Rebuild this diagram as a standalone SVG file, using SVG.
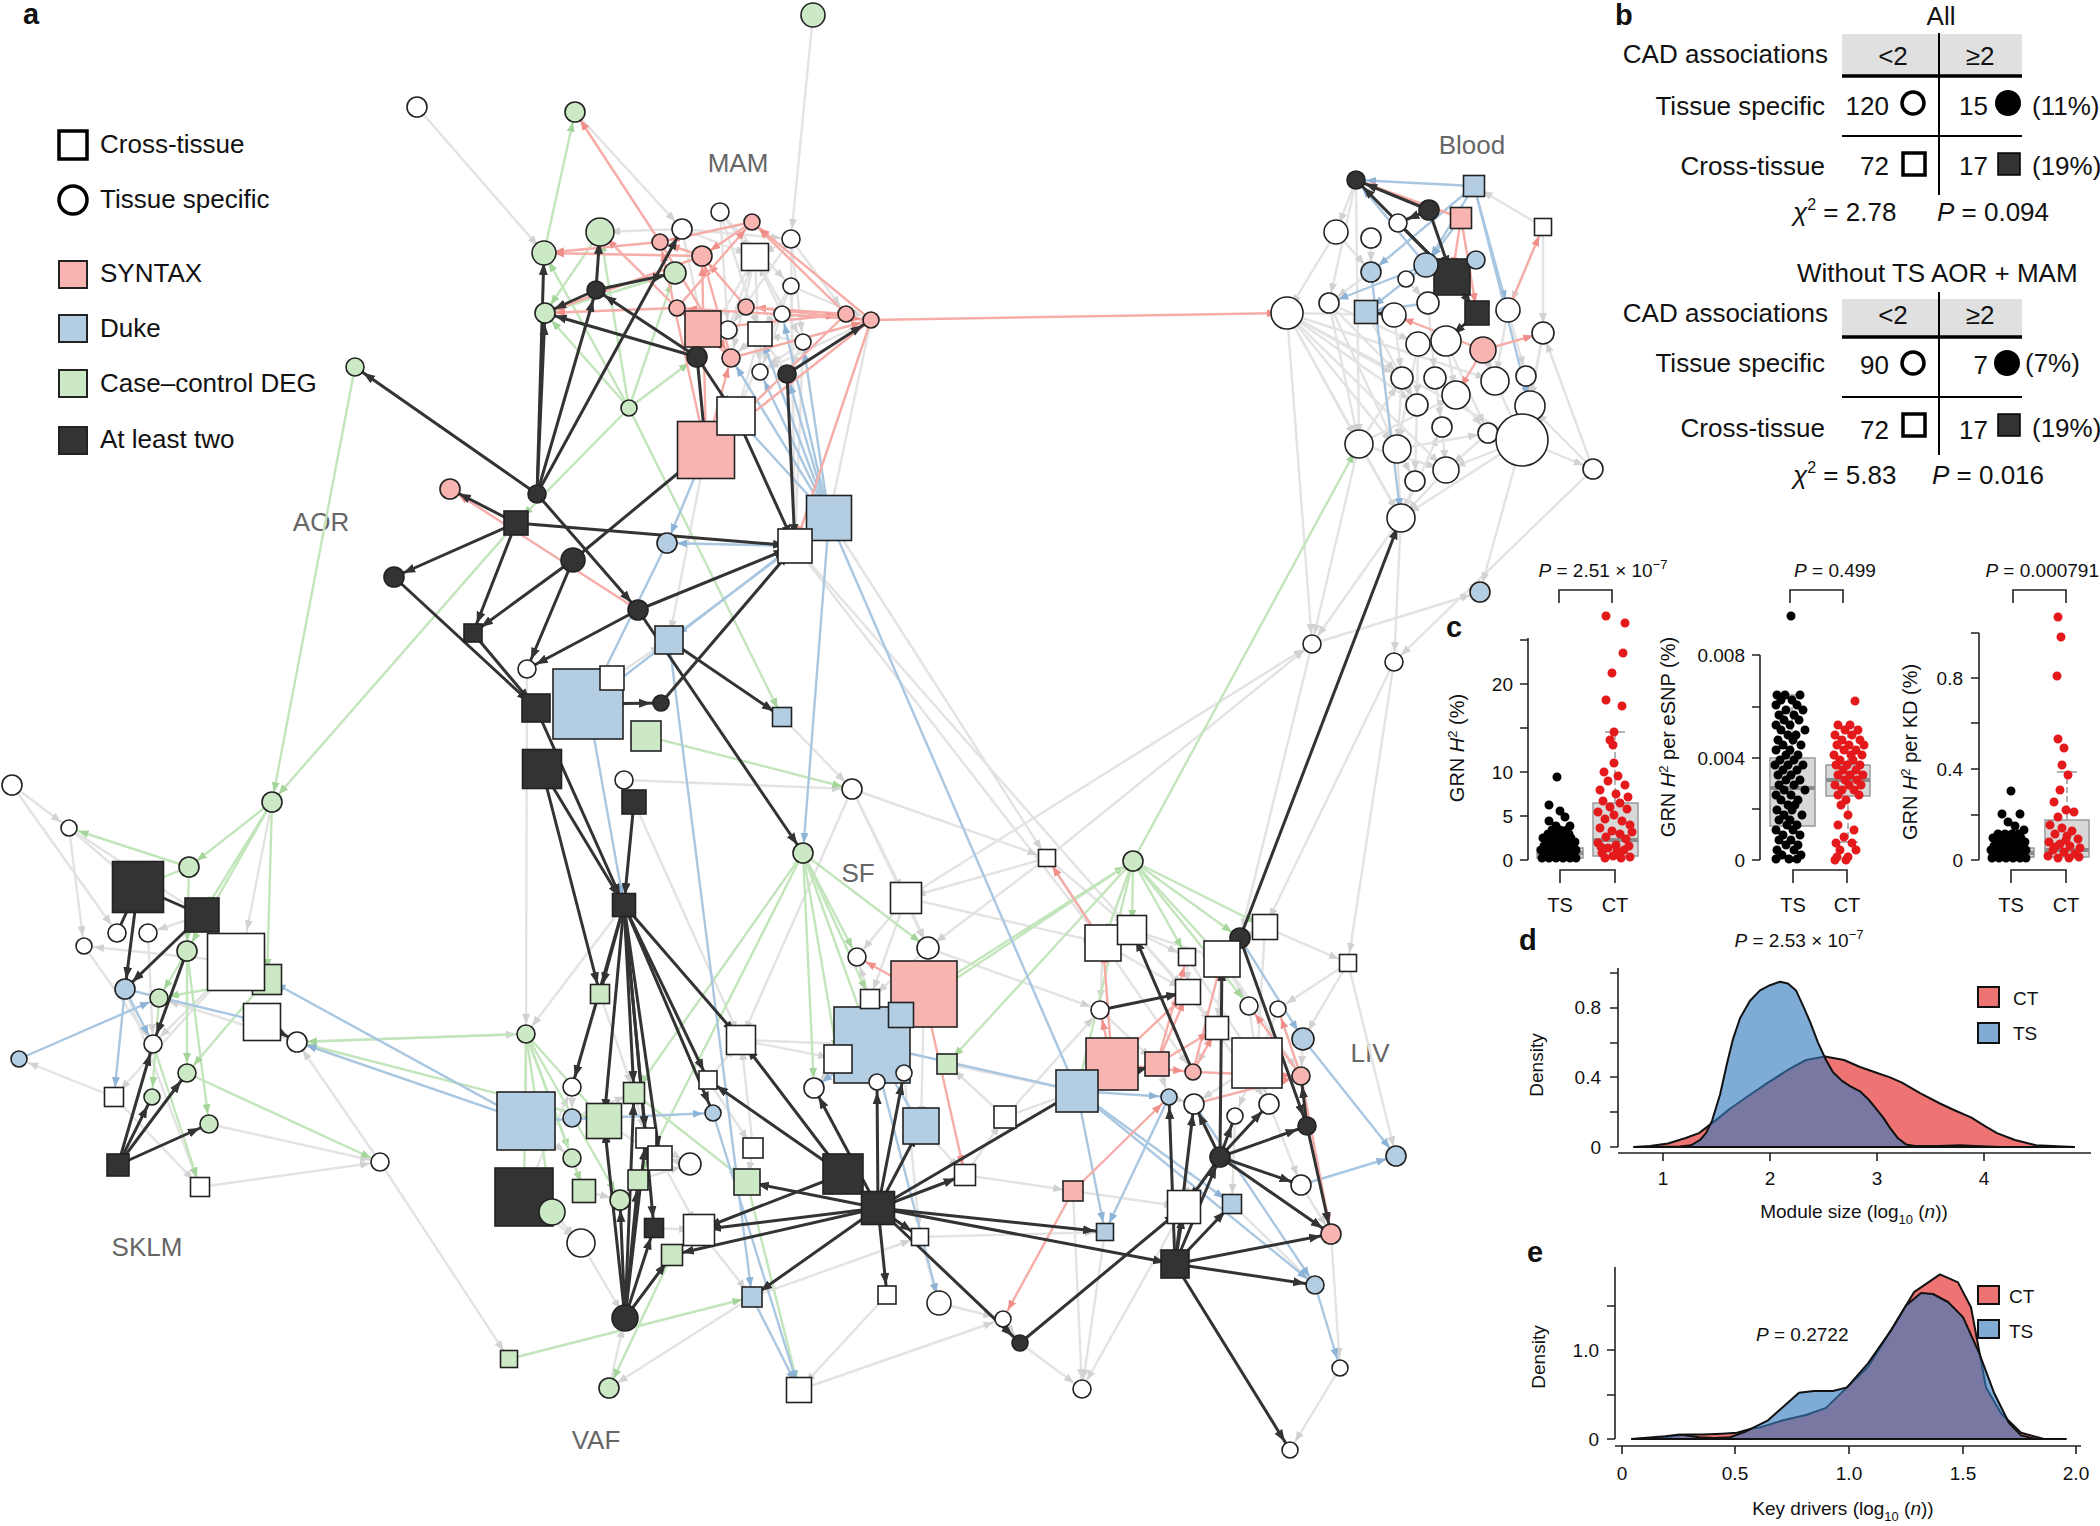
<svg xmlns="http://www.w3.org/2000/svg" width="2100" height="1526" viewBox="0 0 2100 1526">
<defs>
<style>
text{font-family:'Liberation Sans',Arial,sans-serif;fill:#111}
.pl{font-weight:bold;font-size:29px}
.lg{font-size:26px}
.lbl{font-size:26px;fill:#666;text-anchor:middle}
.tb{font-size:26px}
.tk{font-size:19px}
.ed{stroke:#333;stroke-width:3;marker-end:url(#ad)}
.ep{stroke:#f6aca7;stroke-width:2.4;marker-end:url(#ap)}
.eb{stroke:#a9c7e1;stroke-width:2.4;marker-end:url(#ab)}
.en{stroke:#c3e5bb;stroke-width:2.4;marker-end:url(#an)}
.eg{stroke:#e3e3e3;stroke-width:2.4;marker-end:url(#ag)}
.w{fill:#fff}.p{fill:#f8b4b0}.b{fill:#b3cde3}.g{fill:#cce9c5}.k{fill:#333}
#nodes circle,#nodes rect{stroke:#222;stroke-width:1.6}
.box{fill:#d8d8d8;stroke:#9a9a9a;stroke-width:1.5}
.med{stroke:#8c8c8c;stroke-width:4}
.wh{stroke:#9a9a9a;stroke-width:1.5}
.ax{stroke:#222;stroke-width:1.6;fill:none}
.dk{stroke:#000;stroke-width:9;stroke-linecap:round;fill:none}
.dr{stroke:#e3191c;stroke-width:9;stroke-linecap:round;fill:none}
</style>
<marker id="ad" viewBox="0 0 12 12" refX="22" refY="6" markerWidth="12" markerHeight="12" markerUnits="userSpaceOnUse" orient="auto"><path d="M0,1.5L12,6L0,10.5z" fill="#333"/></marker>
<marker id="ap" viewBox="0 0 10 10" refX="20" refY="5" markerWidth="10" markerHeight="10" markerUnits="userSpaceOnUse" orient="auto"><path d="M0,1L10,5L0,9z" fill="#f08f8a"/></marker>
<marker id="ab" viewBox="0 0 10 10" refX="20" refY="5" markerWidth="10" markerHeight="10" markerUnits="userSpaceOnUse" orient="auto"><path d="M0,1L10,5L0,9z" fill="#8db3d6"/></marker>
<marker id="an" viewBox="0 0 10 10" refX="20" refY="5" markerWidth="10" markerHeight="10" markerUnits="userSpaceOnUse" orient="auto"><path d="M0,1L10,5L0,9z" fill="#a6d59b"/></marker>
<marker id="ag" viewBox="0 0 10 10" refX="20" refY="5" markerWidth="10" markerHeight="10" markerUnits="userSpaceOnUse" orient="auto"><path d="M0,1L10,5L0,9z" fill="#d2d2d2"/></marker>
</defs>
<rect width="2100" height="1526" fill="#fff"/>

<g id="legend">
<text class="pl" x="23" y="24">a</text>
<rect x="59" y="131" width="28" height="28" fill="#fff" stroke="#000" stroke-width="3.5"/>
<text class="lg" x="100" y="153">Cross-tissue</text>
<circle cx="73" cy="200" r="14" fill="#fff" stroke="#000" stroke-width="3.5"/>
<text class="lg" x="100" y="208">Tissue specific</text>
<rect x="59" y="261" width="28" height="27" class="p" stroke="#222" stroke-width="2"/>
<text class="lg" x="100" y="282">SYNTAX</text>
<rect x="59" y="315" width="28" height="27" class="b" stroke="#222" stroke-width="2"/>
<text class="lg" x="100" y="337">Duke</text>
<rect x="59" y="370" width="28" height="27" class="g" stroke="#222" stroke-width="2"/>
<text class="lg" x="100" y="392">Case–control DEG</text>
<rect x="59" y="427" width="28" height="27" class="k" stroke="#222" stroke-width="2"/>
<text class="lg" x="100" y="448">At least two</text>
</g>

<g id="tissue-labels">
<text class="lbl" x="738" y="172">MAM</text>
<text class="lbl" x="321" y="531">AOR</text>
<text class="lbl" x="1472" y="154">Blood</text>
<text class="lbl" x="858" y="882">SF</text>
<text class="lbl" x="1370" y="1062">LIV</text>
<text class="lbl" x="147" y="1256">SKLM</text>
<text class="lbl" x="596" y="1449">VAF</text>
</g>

<g id="connectors">
<line class="eg" x1="417" y1="107" x2="544" y2="253"/>
<line class="eg" x1="813" y1="15" x2="791" y2="239"/>
<line class="eg" x1="575" y1="112" x2="682" y2="229"/>
<line class="eg" x1="791" y1="239" x2="795" y2="546"/>
<line class="eg" x1="791" y1="286" x2="795" y2="546"/>
<line class="eg" x1="803" y1="342" x2="795" y2="546"/>
<line class="eg" x1="871" y1="320" x2="829" y2="518"/>
<line class="eg" x1="706" y1="450" x2="669" y2="640"/>
<line class="eg" x1="682" y1="229" x2="755" y2="257"/>
<line class="eg" x1="720" y1="212" x2="755" y2="257"/>
<line class="eg" x1="791" y1="239" x2="755" y2="257"/>
<line class="eg" x1="791" y1="286" x2="760" y2="334"/>
<line class="eg" x1="782" y1="314" x2="755" y2="257"/>
<line class="eg" x1="803" y1="342" x2="760" y2="334"/>
<line class="eg" x1="760" y1="372" x2="760" y2="334"/>
<line class="eg" x1="728" y1="330" x2="755" y2="257"/>
<line class="eg" x1="682" y1="229" x2="791" y2="239"/>
<line class="eg" x1="720" y1="212" x2="791" y2="286"/>
<line class="eg" x1="755" y1="257" x2="760" y2="372"/>
<line class="eg" x1="755" y1="257" x2="803" y2="342"/>
<line class="eg" x1="791" y1="286" x2="871" y2="320"/>
<line class="eg" x1="791" y1="239" x2="846" y2="314"/>
<line class="eg" x1="782" y1="314" x2="760" y2="372"/>
<line class="eg" x1="760" y1="334" x2="787" y2="374"/>
<line class="eg" x1="682" y1="229" x2="703" y2="329"/>
<line class="eg" x1="720" y1="212" x2="728" y2="330"/>
<line class="eg" x1="755" y1="257" x2="731" y2="358"/>
<line class="eg" x1="803" y1="342" x2="787" y2="374"/>
<line class="eg" x1="791" y1="239" x2="803" y2="342"/>
<line class="eg" x1="682" y1="229" x2="600" y2="232"/>
<line class="eg" x1="720" y1="212" x2="760" y2="334"/>
<line class="eg" x1="791" y1="239" x2="728" y2="330"/>
<line class="eg" x1="755" y1="257" x2="697" y2="357"/>
<line class="eg" x1="782" y1="314" x2="731" y2="358"/>
<line class="eg" x1="803" y1="342" x2="760" y2="372"/>
<line class="eg" x1="791" y1="286" x2="736" y2="416"/>
<line class="eg" x1="760" y1="334" x2="736" y2="416"/>
<line class="eg" x1="871" y1="320" x2="760" y2="372"/>
<line class="eg" x1="624" y1="780" x2="852" y2="789"/>
<line class="eg" x1="527" y1="669" x2="526" y2="1034"/>
<line class="eg" x1="634" y1="802" x2="741" y2="1040"/>
<line class="eg" x1="782" y1="717" x2="852" y2="789"/>
<line class="eg" x1="612" y1="678" x2="669" y2="640"/>
<line class="eg" x1="852" y1="789" x2="741" y2="1040"/>
<line class="eg" x1="795" y1="546" x2="1103" y2="943"/>
<line class="eg" x1="795" y1="546" x2="1132" y2="930"/>
<line class="eg" x1="829" y1="518" x2="1047" y2="858"/>
<line class="eg" x1="852" y1="789" x2="906" y2="898"/>
<line class="eg" x1="852" y1="789" x2="1047" y2="858"/>
<line class="eg" x1="852" y1="789" x2="928" y2="948"/>
<line class="eg" x1="624" y1="905" x2="526" y2="1034"/>
<line class="eg" x1="1287" y1="313" x2="1312" y2="644"/>
<line class="eg" x1="1287" y1="313" x2="1401" y2="518"/>
<line class="eg" x1="1359" y1="444" x2="1312" y2="644"/>
<line class="eg" x1="1401" y1="518" x2="1394" y2="662"/>
<line class="eg" x1="1401" y1="518" x2="1312" y2="644"/>
<line class="eg" x1="1593" y1="469" x2="1394" y2="662"/>
<line class="eg" x1="1593" y1="469" x2="1530" y2="406"/>
<line class="eg" x1="1593" y1="469" x2="1543" y2="333"/>
<line class="eg" x1="1543" y1="227" x2="1543" y2="333"/>
<line class="eg" x1="1543" y1="227" x2="1474" y2="186"/>
<line class="eg" x1="1543" y1="227" x2="1508" y2="310"/>
<line class="eg" x1="1356" y1="180" x2="1336" y2="232"/>
<line class="eg" x1="1356" y1="180" x2="1329" y2="303"/>
<line class="eg" x1="1356" y1="180" x2="1359" y2="444"/>
<line class="eg" x1="1336" y1="232" x2="1287" y2="313"/>
<line class="eg" x1="1287" y1="313" x2="1359" y2="444"/>
<line class="eg" x1="1287" y1="313" x2="1417" y2="405"/>
<line class="eg" x1="1287" y1="313" x2="1402" y2="378"/>
<line class="eg" x1="1287" y1="313" x2="1397" y2="449"/>
<line class="eg" x1="1287" y1="313" x2="1394" y2="315"/>
<line class="eg" x1="1287" y1="313" x2="1495" y2="381"/>
<line class="eg" x1="1287" y1="313" x2="1522" y2="440"/>
<line class="eg" x1="1329" y1="303" x2="1418" y2="344"/>
<line class="eg" x1="1329" y1="303" x2="1359" y2="444"/>
<line class="eg" x1="1359" y1="444" x2="1446" y2="470"/>
<line class="eg" x1="1359" y1="444" x2="1401" y2="518"/>
<line class="eg" x1="1397" y1="449" x2="1401" y2="518"/>
<line class="eg" x1="1415" y1="481" x2="1401" y2="518"/>
<line class="eg" x1="1446" y1="470" x2="1401" y2="518"/>
<line class="eg" x1="1522" y1="440" x2="1401" y2="518"/>
<line class="eg" x1="1522" y1="440" x2="1593" y2="469"/>
<line class="eg" x1="1530" y1="406" x2="1522" y2="440"/>
<line class="eg" x1="1543" y1="333" x2="1522" y2="440"/>
<line class="eg" x1="1543" y1="333" x2="1530" y2="406"/>
<line class="eg" x1="1508" y1="310" x2="1495" y2="381"/>
<line class="eg" x1="1508" y1="310" x2="1526" y2="376"/>
<line class="eg" x1="1446" y1="341" x2="1456" y2="395"/>
<line class="eg" x1="1418" y1="344" x2="1417" y2="405"/>
<line class="eg" x1="1402" y1="378" x2="1397" y2="449"/>
<line class="eg" x1="1435" y1="378" x2="1442" y2="427"/>
<line class="eg" x1="1456" y1="395" x2="1488" y2="433"/>
<line class="eg" x1="1495" y1="381" x2="1522" y2="440"/>
<line class="eg" x1="1526" y1="376" x2="1530" y2="406"/>
<line class="eg" x1="1394" y1="315" x2="1402" y2="378"/>
<line class="eg" x1="1428" y1="303" x2="1435" y2="378"/>
<line class="eg" x1="1371" y1="272" x2="1329" y2="303"/>
<line class="eg" x1="1371" y1="238" x2="1371" y2="272"/>
<line class="eg" x1="1406" y1="279" x2="1428" y2="303"/>
<line class="eg" x1="1442" y1="427" x2="1446" y2="470"/>
<line class="eg" x1="1488" y1="433" x2="1446" y2="470"/>
<line class="eg" x1="1417" y1="405" x2="1415" y2="481"/>
<line class="eg" x1="1397" y1="449" x2="1415" y2="481"/>
<line class="eg" x1="1418" y1="344" x2="1397" y2="449"/>
<line class="eg" x1="1446" y1="341" x2="1488" y2="433"/>
<line class="eg" x1="1483" y1="350" x2="1495" y2="381"/>
<line class="eg" x1="1329" y1="303" x2="1402" y2="378"/>
<line class="eg" x1="1366" y1="312" x2="1417" y2="405"/>
<line class="eg" x1="1359" y1="444" x2="1402" y2="378"/>
<line class="eg" x1="1401" y1="518" x2="1442" y2="427"/>
<line class="eg" x1="1336" y1="232" x2="1371" y2="272"/>
<line class="eg" x1="1329" y1="303" x2="1397" y2="449"/>
<line class="eg" x1="1287" y1="313" x2="1446" y2="470"/>
<line class="eg" x1="1359" y1="444" x2="1456" y2="395"/>
<line class="eg" x1="1397" y1="449" x2="1488" y2="433"/>
<line class="eg" x1="1522" y1="440" x2="1446" y2="470"/>
<line class="eg" x1="1522" y1="440" x2="1480" y2="592"/>
<line class="eg" x1="1312" y1="644" x2="1480" y2="592"/>
<line class="eg" x1="1312" y1="644" x2="1240" y2="938"/>
<line class="eg" x1="1394" y1="662" x2="1348" y2="963"/>
<line class="eg" x1="1394" y1="662" x2="1265" y2="927"/>
<line class="eg" x1="906" y1="898" x2="1312" y2="644"/>
<line class="eg" x1="1047" y1="858" x2="1312" y2="644"/>
<line class="eg" x1="12" y1="785" x2="69" y2="828"/>
<line class="eg" x1="69" y1="828" x2="84" y2="946"/>
<line class="eg" x1="12" y1="785" x2="117" y2="933"/>
<line class="eg" x1="69" y1="828" x2="202" y2="915"/>
<line class="eg" x1="84" y1="946" x2="153" y2="1044"/>
<line class="eg" x1="114" y1="1097" x2="19" y2="1059"/>
<line class="eg" x1="114" y1="1097" x2="200" y2="1187"/>
<line class="eg" x1="200" y1="1187" x2="380" y2="1162"/>
<line class="eg" x1="380" y1="1162" x2="297" y2="1042"/>
<line class="eg" x1="380" y1="1162" x2="509" y2="1359"/>
<line class="eg" x1="297" y1="1042" x2="159" y2="998"/>
<line class="eg" x1="209" y1="1124" x2="380" y2="1162"/>
<line class="eg" x1="236" y1="962" x2="153" y2="1044"/>
<line class="eg" x1="236" y1="962" x2="84" y2="946"/>
<line class="eg" x1="202" y1="915" x2="148" y2="933"/>
<line class="eg" x1="272" y1="802" x2="245" y2="940"/>
<line class="eg" x1="297" y1="1042" x2="526" y2="1034"/>
<line class="eg" x1="69" y1="828" x2="138" y2="887"/>
<line class="eg" x1="148" y1="933" x2="153" y2="1044"/>
<line class="eg" x1="125" y1="989" x2="200" y2="1187"/>
<line class="eg" x1="236" y1="962" x2="114" y2="1097"/>
<line class="eg" x1="524" y1="1197" x2="572" y2="1087"/>
<line class="eg" x1="572" y1="1087" x2="572" y2="1118"/>
<line class="eg" x1="572" y1="1118" x2="634" y2="1093"/>
<line class="eg" x1="646" y1="1138" x2="690" y2="1164"/>
<line class="eg" x1="690" y1="1164" x2="660" y2="1158"/>
<line class="eg" x1="660" y1="1158" x2="699" y2="1230"/>
<line class="eg" x1="699" y1="1230" x2="752" y2="1297"/>
<line class="eg" x1="753" y1="1148" x2="747" y2="1182"/>
<line class="eg" x1="753" y1="1148" x2="741" y2="1040"/>
<line class="eg" x1="708" y1="1080" x2="741" y2="1040"/>
<line class="eg" x1="838" y1="1059" x2="814" y2="1088"/>
<line class="eg" x1="870" y1="999" x2="857" y2="957"/>
<line class="eg" x1="928" y1="948" x2="870" y2="999"/>
<line class="eg" x1="906" y1="898" x2="870" y2="999"/>
<line class="eg" x1="906" y1="898" x2="857" y2="957"/>
<line class="eg" x1="906" y1="898" x2="928" y2="948"/>
<line class="eg" x1="924" y1="994" x2="921" y2="1126"/>
<line class="eg" x1="921" y1="1126" x2="965" y2="1175"/>
<line class="eg" x1="965" y1="1175" x2="1005" y2="1117"/>
<line class="eg" x1="1005" y1="1117" x2="947" y2="1064"/>
<line class="eg" x1="904" y1="1073" x2="920" y2="1237"/>
<line class="eg" x1="939" y1="1303" x2="1003" y2="1319"/>
<line class="eg" x1="1003" y1="1319" x2="1020" y2="1343"/>
<line class="eg" x1="920" y1="1237" x2="939" y2="1303"/>
<line class="eg" x1="799" y1="1390" x2="1003" y2="1319"/>
<line class="eg" x1="752" y1="1297" x2="920" y2="1237"/>
<line class="eg" x1="1047" y1="858" x2="906" y2="898"/>
<line class="eg" x1="1047" y1="858" x2="928" y2="948"/>
<line class="eg" x1="741" y1="1040" x2="838" y2="1059"/>
<line class="eg" x1="741" y1="1040" x2="872" y2="1045"/>
<line class="eg" x1="708" y1="1080" x2="753" y2="1148"/>
<line class="eg" x1="552" y1="1212" x2="581" y2="1243"/>
<line class="eg" x1="524" y1="1197" x2="581" y2="1243"/>
<line class="eg" x1="581" y1="1243" x2="625" y2="1318"/>
<line class="eg" x1="654" y1="1228" x2="699" y2="1230"/>
<line class="eg" x1="672" y1="1255" x2="699" y2="1230"/>
<line class="eg" x1="638" y1="1180" x2="690" y2="1164"/>
<line class="eg" x1="584" y1="1191" x2="620" y2="1200"/>
<line class="eg" x1="572" y1="1158" x2="584" y2="1191"/>
<line class="eg" x1="604" y1="1121" x2="660" y2="1158"/>
<line class="eg" x1="634" y1="1093" x2="646" y2="1138"/>
<line class="eg" x1="600" y1="994" x2="634" y2="1093"/>
<line class="eg" x1="600" y1="994" x2="572" y2="1087"/>
<line class="eg" x1="526" y1="1034" x2="526" y2="1121"/>
<line class="eg" x1="526" y1="1121" x2="572" y2="1158"/>
<line class="eg" x1="752" y1="1297" x2="609" y2="1388"/>
<line class="eg" x1="609" y1="1388" x2="625" y2="1318"/>
<line class="eg" x1="887" y1="1295" x2="799" y2="1390"/>
<line class="eg" x1="965" y1="1175" x2="1073" y2="1191"/>
<line class="eg" x1="1005" y1="1117" x2="1100" y2="1010"/>
<line class="eg" x1="1005" y1="1117" x2="1077" y2="1091"/>
<line class="eg" x1="1020" y1="1343" x2="1082" y2="1389"/>
<line class="eg" x1="1105" y1="1232" x2="1082" y2="1389"/>
<line class="eg" x1="1073" y1="1191" x2="1082" y2="1389"/>
<line class="eg" x1="920" y1="1237" x2="1105" y2="1232"/>
<line class="eg" x1="947" y1="1064" x2="1077" y2="1091"/>
<line class="eg" x1="906" y1="898" x2="1103" y2="943"/>
<line class="eg" x1="1047" y1="858" x2="1103" y2="943"/>
<line class="eg" x1="1047" y1="858" x2="1132" y2="930"/>
<line class="eg" x1="928" y1="948" x2="1100" y2="1010"/>
<line class="eg" x1="1103" y1="943" x2="1100" y2="1010"/>
<line class="eg" x1="1132" y1="930" x2="1188" y2="992"/>
<line class="eg" x1="1132" y1="930" x2="1187" y2="957"/>
<line class="eg" x1="1103" y1="943" x2="1112" y2="1064"/>
<line class="eg" x1="1265" y1="927" x2="1222" y2="959"/>
<line class="eg" x1="1265" y1="927" x2="1348" y2="963"/>
<line class="eg" x1="1348" y1="963" x2="1303" y2="1039"/>
<line class="eg" x1="1348" y1="963" x2="1278" y2="1009"/>
<line class="eg" x1="1187" y1="957" x2="1188" y2="992"/>
<line class="eg" x1="1222" y1="959" x2="1217" y2="1028"/>
<line class="eg" x1="1222" y1="959" x2="1249" y2="1006"/>
<line class="eg" x1="1249" y1="1006" x2="1257" y2="1063"/>
<line class="eg" x1="1278" y1="1009" x2="1257" y2="1063"/>
<line class="eg" x1="1188" y1="992" x2="1217" y2="1028"/>
<line class="eg" x1="1217" y1="1028" x2="1193" y2="1072"/>
<line class="eg" x1="1217" y1="1028" x2="1257" y2="1063"/>
<line class="eg" x1="1100" y1="1010" x2="1112" y2="1064"/>
<line class="eg" x1="1257" y1="1063" x2="1194" y2="1104"/>
<line class="eg" x1="1257" y1="1063" x2="1235" y2="1116"/>
<line class="eg" x1="1257" y1="1063" x2="1269" y2="1104"/>
<line class="eg" x1="1169" y1="1097" x2="1194" y2="1104"/>
<line class="eg" x1="1194" y1="1104" x2="1184" y2="1207"/>
<line class="eg" x1="1235" y1="1116" x2="1232" y2="1204"/>
<line class="eg" x1="1269" y1="1104" x2="1301" y2="1185"/>
<line class="eg" x1="1301" y1="1185" x2="1331" y2="1234"/>
<line class="eg" x1="1232" y1="1204" x2="1315" y2="1285"/>
<line class="eg" x1="1340" y1="1368" x2="1290" y2="1450"/>
<line class="eg" x1="1331" y1="1234" x2="1340" y2="1368"/>
<line class="eg" x1="1348" y1="963" x2="1396" y2="1156"/>
<line class="eg" x1="1303" y1="1039" x2="1301" y2="1076"/>
<line class="eg" x1="1240" y1="938" x2="1265" y2="927"/>
<line class="eg" x1="1132" y1="930" x2="1103" y2="943"/>
<line class="eg" x1="1157" y1="1064" x2="1169" y2="1097"/>
<line class="eg" x1="1103" y1="943" x2="1188" y2="992"/>
<line class="eg" x1="1132" y1="930" x2="1222" y2="959"/>
<line class="eg" x1="1132" y1="930" x2="1217" y2="1028"/>
<line class="eg" x1="1103" y1="943" x2="1193" y2="1072"/>
<line class="eg" x1="1100" y1="1010" x2="1157" y2="1064"/>
<line class="eg" x1="1073" y1="1191" x2="1184" y2="1207"/>
<line class="eg" x1="1184" y1="1207" x2="1082" y2="1389"/>
<line class="eg" x1="1187" y1="957" x2="1257" y2="1063"/>
<line class="eg" x1="1265" y1="927" x2="1257" y2="1063"/>
<line class="eg" x1="1222" y1="959" x2="1301" y2="1076"/>
<line class="eg" x1="1188" y1="992" x2="1269" y2="1104"/>
<line class="en" x1="355" y1="367" x2="272" y2="802"/>
<line class="en" x1="516" y1="523" x2="272" y2="802"/>
<line class="en" x1="544" y1="253" x2="575" y2="112"/>
<line class="en" x1="600" y1="232" x2="545" y2="313"/>
<line class="en" x1="629" y1="408" x2="544" y2="253"/>
<line class="en" x1="629" y1="408" x2="545" y2="313"/>
<line class="en" x1="629" y1="408" x2="675" y2="273"/>
<line class="en" x1="629" y1="408" x2="600" y2="232"/>
<line class="en" x1="629" y1="408" x2="516" y2="523"/>
<line class="en" x1="629" y1="408" x2="782" y2="717"/>
<line class="en" x1="675" y1="273" x2="545" y2="313"/>
<line class="en" x1="629" y1="408" x2="697" y2="357"/>
<line class="en" x1="646" y1="736" x2="852" y2="789"/>
<line class="en" x1="272" y1="802" x2="189" y2="867"/>
<line class="en" x1="272" y1="802" x2="187" y2="951"/>
<line class="en" x1="272" y1="802" x2="267" y2="979"/>
<line class="en" x1="272" y1="802" x2="202" y2="915"/>
<line class="en" x1="189" y1="867" x2="69" y2="828"/>
<line class="en" x1="189" y1="867" x2="138" y2="887"/>
<line class="en" x1="187" y1="951" x2="159" y2="998"/>
<line class="en" x1="187" y1="951" x2="187" y2="1073"/>
<line class="en" x1="187" y1="951" x2="209" y2="1124"/>
<line class="en" x1="159" y1="998" x2="152" y2="1097"/>
<line class="en" x1="267" y1="979" x2="187" y2="1073"/>
<line class="en" x1="187" y1="1073" x2="380" y2="1162"/>
<line class="en" x1="153" y1="1044" x2="200" y2="1187"/>
<line class="en" x1="189" y1="867" x2="187" y2="951"/>
<line class="en" x1="267" y1="979" x2="159" y2="998"/>
<line class="en" x1="526" y1="1034" x2="297" y2="1042"/>
<line class="en" x1="526" y1="1034" x2="552" y2="1212"/>
<line class="en" x1="526" y1="1034" x2="572" y2="1158"/>
<line class="en" x1="526" y1="1034" x2="604" y2="1121"/>
<line class="en" x1="526" y1="1034" x2="620" y2="1200"/>
<line class="en" x1="526" y1="1034" x2="584" y2="1191"/>
<line class="en" x1="526" y1="1034" x2="524" y2="1197"/>
<line class="en" x1="604" y1="1121" x2="297" y2="1042"/>
<line class="en" x1="803" y1="853" x2="870" y2="999"/>
<line class="en" x1="803" y1="853" x2="872" y2="1045"/>
<line class="en" x1="803" y1="853" x2="838" y2="1059"/>
<line class="en" x1="803" y1="853" x2="814" y2="1088"/>
<line class="en" x1="803" y1="853" x2="857" y2="957"/>
<line class="en" x1="803" y1="853" x2="638" y2="1180"/>
<line class="en" x1="803" y1="853" x2="634" y2="1093"/>
<line class="en" x1="803" y1="853" x2="928" y2="948"/>
<line class="en" x1="924" y1="994" x2="1133" y2="861"/>
<line class="en" x1="1133" y1="861" x2="1103" y2="943"/>
<line class="en" x1="1133" y1="861" x2="1132" y2="930"/>
<line class="en" x1="1133" y1="861" x2="1240" y2="938"/>
<line class="en" x1="1133" y1="861" x2="1265" y2="927"/>
<line class="en" x1="1133" y1="861" x2="1187" y2="957"/>
<line class="en" x1="1133" y1="861" x2="1222" y2="959"/>
<line class="en" x1="1133" y1="861" x2="1249" y2="1006"/>
<line class="en" x1="1133" y1="861" x2="947" y2="1064"/>
<line class="en" x1="1133" y1="861" x2="1077" y2="1091"/>
<line class="en" x1="1133" y1="861" x2="901" y2="1015"/>
<line class="en" x1="1133" y1="861" x2="1359" y2="444"/>
<line class="en" x1="672" y1="1255" x2="609" y2="1388"/>
<line class="en" x1="747" y1="1182" x2="799" y2="1390"/>
<line class="en" x1="509" y1="1359" x2="752" y2="1297"/>
<line class="en" x1="634" y1="1093" x2="747" y2="1182"/>
<line class="eb" x1="829" y1="518" x2="787" y2="374"/>
<line class="eb" x1="829" y1="518" x2="731" y2="358"/>
<line class="eb" x1="829" y1="518" x2="760" y2="334"/>
<line class="eb" x1="829" y1="518" x2="760" y2="372"/>
<line class="eb" x1="829" y1="518" x2="803" y2="342"/>
<line class="eb" x1="829" y1="518" x2="782" y2="314"/>
<line class="eb" x1="829" y1="518" x2="736" y2="416"/>
<line class="eb" x1="795" y1="546" x2="667" y2="543"/>
<line class="eb" x1="829" y1="518" x2="588" y2="704"/>
<line class="eb" x1="667" y1="543" x2="588" y2="704"/>
<line class="eb" x1="829" y1="518" x2="1077" y2="1091"/>
<line class="eb" x1="588" y1="704" x2="624" y2="905"/>
<line class="eb" x1="669" y1="640" x2="752" y2="1297"/>
<line class="eb" x1="795" y1="546" x2="669" y2="640"/>
<line class="eb" x1="706" y1="450" x2="667" y2="543"/>
<line class="eb" x1="829" y1="518" x2="803" y2="853"/>
<line class="eb" x1="526" y1="1121" x2="267" y2="979"/>
<line class="eb" x1="19" y1="1059" x2="159" y2="998"/>
<line class="eb" x1="125" y1="989" x2="114" y2="1097"/>
<line class="eb" x1="125" y1="989" x2="262" y2="1022"/>
<line class="eb" x1="125" y1="989" x2="153" y2="1044"/>
<line class="eb" x1="526" y1="1121" x2="297" y2="1042"/>
<line class="eb" x1="526" y1="1121" x2="713" y2="1113"/>
<line class="eb" x1="872" y1="1045" x2="921" y2="1126"/>
<line class="eb" x1="872" y1="1045" x2="814" y2="1088"/>
<line class="eb" x1="872" y1="1045" x2="939" y2="1303"/>
<line class="eb" x1="752" y1="1297" x2="799" y2="1390"/>
<line class="eb" x1="713" y1="1113" x2="799" y2="1390"/>
<line class="eb" x1="872" y1="1045" x2="1077" y2="1091"/>
<line class="eb" x1="1077" y1="1091" x2="1105" y2="1232"/>
<line class="eb" x1="1077" y1="1091" x2="1169" y2="1097"/>
<line class="eb" x1="1077" y1="1091" x2="1232" y2="1204"/>
<line class="eb" x1="1303" y1="1039" x2="1396" y2="1156"/>
<line class="eb" x1="1315" y1="1285" x2="1340" y2="1368"/>
<line class="eb" x1="1169" y1="1097" x2="1105" y2="1232"/>
<line class="eb" x1="1301" y1="1185" x2="1396" y2="1156"/>
<line class="eb" x1="1077" y1="1091" x2="1315" y2="1285"/>
<line class="eb" x1="1240" y1="938" x2="1303" y2="1039"/>
<line class="eb" x1="1194" y1="1104" x2="1315" y2="1285"/>
<line class="eb" x1="1474" y1="186" x2="1371" y2="272"/>
<line class="eb" x1="1474" y1="186" x2="1426" y2="265"/>
<line class="eb" x1="1474" y1="186" x2="1508" y2="310"/>
<line class="eb" x1="1426" y1="265" x2="1366" y2="312"/>
<line class="eb" x1="1371" y1="272" x2="1401" y2="518"/>
<line class="eb" x1="1476" y1="260" x2="1426" y2="265"/>
<line class="eb" x1="1474" y1="186" x2="1356" y2="180"/>
<line class="eb" x1="1426" y1="265" x2="1329" y2="303"/>
<line class="eb" x1="1461" y1="218" x2="1426" y2="265"/>
<line class="eb" x1="1474" y1="186" x2="1530" y2="406"/>
<line class="eb" x1="1426" y1="265" x2="1356" y2="180"/>
<line class="eb" x1="1428" y1="303" x2="1366" y2="312"/>
<line class="ep" x1="871" y1="320" x2="1287" y2="313"/>
<line class="ep" x1="638" y1="610" x2="450" y2="489"/>
<line class="ep" x1="660" y1="242" x2="575" y2="112"/>
<line class="ep" x1="871" y1="320" x2="795" y2="546"/>
<line class="ep" x1="702" y1="256" x2="544" y2="253"/>
<line class="ep" x1="677" y1="308" x2="545" y2="313"/>
<line class="ep" x1="660" y1="242" x2="544" y2="253"/>
<line class="ep" x1="752" y1="222" x2="660" y2="242"/>
<line class="ep" x1="752" y1="222" x2="702" y2="256"/>
<line class="ep" x1="846" y1="314" x2="752" y2="222"/>
<line class="ep" x1="871" y1="320" x2="752" y2="222"/>
<line class="ep" x1="871" y1="320" x2="677" y2="308"/>
<line class="ep" x1="846" y1="314" x2="746" y2="307"/>
<line class="ep" x1="731" y1="358" x2="677" y2="308"/>
<line class="ep" x1="731" y1="358" x2="702" y2="256"/>
<line class="ep" x1="746" y1="307" x2="702" y2="256"/>
<line class="ep" x1="703" y1="329" x2="846" y2="314"/>
<line class="ep" x1="871" y1="320" x2="706" y2="450"/>
<line class="ep" x1="702" y1="256" x2="660" y2="242"/>
<line class="ep" x1="677" y1="308" x2="752" y2="222"/>
<line class="ep" x1="731" y1="358" x2="871" y2="320"/>
<line class="ep" x1="746" y1="307" x2="871" y2="320"/>
<line class="ep" x1="660" y1="242" x2="731" y2="358"/>
<line class="ep" x1="706" y1="450" x2="731" y2="358"/>
<line class="ep" x1="846" y1="314" x2="706" y2="450"/>
<line class="ep" x1="706" y1="450" x2="660" y2="242"/>
<line class="ep" x1="706" y1="450" x2="702" y2="256"/>
<line class="ep" x1="677" y1="308" x2="600" y2="232"/>
<line class="ep" x1="702" y1="256" x2="545" y2="313"/>
<line class="ep" x1="924" y1="994" x2="857" y2="957"/>
<line class="ep" x1="924" y1="994" x2="965" y2="1175"/>
<line class="ep" x1="1073" y1="1191" x2="1003" y2="1319"/>
<line class="ep" x1="1103" y1="943" x2="1047" y2="858"/>
<line class="ep" x1="1112" y1="1064" x2="1103" y2="943"/>
<line class="ep" x1="1073" y1="1191" x2="1169" y2="1097"/>
<line class="ep" x1="1301" y1="1076" x2="1331" y2="1234"/>
<line class="ep" x1="1112" y1="1064" x2="1100" y2="1010"/>
<line class="ep" x1="1157" y1="1064" x2="1188" y2="992"/>
<line class="ep" x1="1193" y1="1072" x2="1217" y2="1028"/>
<line class="ep" x1="1301" y1="1076" x2="1278" y2="1009"/>
<line class="ep" x1="1193" y1="1072" x2="1222" y2="959"/>
<line class="ep" x1="1157" y1="1064" x2="1217" y2="1028"/>
<line class="ep" x1="1157" y1="1064" x2="1187" y2="957"/>
<line class="ep" x1="1193" y1="1072" x2="1301" y2="1076"/>
<line class="ep" x1="1194" y1="1104" x2="1301" y2="1076"/>
<line class="ep" x1="1112" y1="1064" x2="1193" y2="1072"/>
<line class="ep" x1="1301" y1="1076" x2="1249" y2="1006"/>
<line class="ep" x1="1112" y1="1064" x2="1188" y2="992"/>
<line class="ep" x1="1461" y1="218" x2="1356" y2="180"/>
<line class="ep" x1="1483" y1="350" x2="1543" y2="333"/>
<line class="ep" x1="1508" y1="310" x2="1543" y2="227"/>
<line class="ep" x1="1483" y1="350" x2="1394" y2="315"/>
<line class="ep" x1="1461" y1="218" x2="1477" y2="313"/>
<line class="ep" x1="1461" y1="218" x2="1452" y2="277"/>
<line class="ep" x1="1483" y1="350" x2="1456" y2="395"/>
<line class="ed" x1="537" y1="494" x2="544" y2="253"/>
<line class="ed" x1="537" y1="494" x2="545" y2="313"/>
<line class="ed" x1="537" y1="494" x2="596" y2="290"/>
<line class="ed" x1="537" y1="494" x2="682" y2="229"/>
<line class="ed" x1="537" y1="494" x2="355" y2="367"/>
<line class="ed" x1="537" y1="494" x2="638" y2="610"/>
<line class="ed" x1="596" y1="290" x2="600" y2="232"/>
<line class="ed" x1="596" y1="290" x2="545" y2="313"/>
<line class="ed" x1="596" y1="290" x2="675" y2="273"/>
<line class="ed" x1="697" y1="357" x2="545" y2="313"/>
<line class="ed" x1="697" y1="357" x2="596" y2="290"/>
<line class="ed" x1="697" y1="357" x2="706" y2="450"/>
<line class="ed" x1="697" y1="357" x2="736" y2="416"/>
<line class="ed" x1="787" y1="374" x2="795" y2="546"/>
<line class="ed" x1="787" y1="374" x2="871" y2="320"/>
<line class="ed" x1="736" y1="416" x2="795" y2="546"/>
<line class="ed" x1="516" y1="523" x2="450" y2="489"/>
<line class="ed" x1="516" y1="523" x2="394" y2="577"/>
<line class="ed" x1="516" y1="523" x2="473" y2="633"/>
<line class="ed" x1="516" y1="523" x2="795" y2="546"/>
<line class="ed" x1="573" y1="560" x2="473" y2="633"/>
<line class="ed" x1="573" y1="560" x2="527" y2="669"/>
<line class="ed" x1="573" y1="560" x2="706" y2="450"/>
<line class="ed" x1="638" y1="610" x2="795" y2="546"/>
<line class="ed" x1="638" y1="610" x2="527" y2="669"/>
<line class="ed" x1="638" y1="610" x2="803" y2="853"/>
<line class="ed" x1="669" y1="640" x2="782" y2="717"/>
<line class="ed" x1="394" y1="577" x2="536" y2="708"/>
<line class="ed" x1="473" y1="633" x2="536" y2="708"/>
<line class="ed" x1="536" y1="708" x2="624" y2="905"/>
<line class="ed" x1="542" y1="769" x2="624" y2="905"/>
<line class="ed" x1="542" y1="769" x2="600" y2="994"/>
<line class="ed" x1="634" y1="802" x2="624" y2="905"/>
<line class="ed" x1="661" y1="703" x2="795" y2="546"/>
<line class="ed" x1="588" y1="704" x2="661" y2="703"/>
<line class="ed" x1="624" y1="905" x2="600" y2="994"/>
<line class="ed" x1="624" y1="905" x2="572" y2="1087"/>
<line class="ed" x1="624" y1="905" x2="634" y2="1093"/>
<line class="ed" x1="624" y1="905" x2="646" y2="1138"/>
<line class="ed" x1="624" y1="905" x2="654" y2="1228"/>
<line class="ed" x1="624" y1="905" x2="713" y2="1113"/>
<line class="ed" x1="624" y1="905" x2="708" y2="1080"/>
<line class="ed" x1="624" y1="905" x2="741" y2="1040"/>
<line class="ed" x1="624" y1="905" x2="604" y2="1121"/>
<line class="ed" x1="624" y1="905" x2="660" y2="1158"/>
<line class="ed" x1="625" y1="1318" x2="634" y2="1093"/>
<line class="ed" x1="625" y1="1318" x2="654" y2="1228"/>
<line class="ed" x1="625" y1="1318" x2="672" y2="1255"/>
<line class="ed" x1="625" y1="1318" x2="638" y2="1180"/>
<line class="ed" x1="625" y1="1318" x2="620" y2="1200"/>
<line class="ed" x1="625" y1="1318" x2="646" y2="1138"/>
<line class="ed" x1="625" y1="1318" x2="604" y2="1121"/>
<line class="ed" x1="878" y1="1208" x2="843" y2="1174"/>
<line class="ed" x1="878" y1="1208" x2="699" y2="1230"/>
<line class="ed" x1="878" y1="1208" x2="747" y2="1182"/>
<line class="ed" x1="878" y1="1208" x2="752" y2="1297"/>
<line class="ed" x1="878" y1="1208" x2="887" y2="1295"/>
<line class="ed" x1="878" y1="1208" x2="920" y2="1237"/>
<line class="ed" x1="878" y1="1208" x2="814" y2="1088"/>
<line class="ed" x1="878" y1="1208" x2="877" y2="1082"/>
<line class="ed" x1="878" y1="1208" x2="904" y2="1073"/>
<line class="ed" x1="878" y1="1208" x2="921" y2="1126"/>
<line class="ed" x1="878" y1="1208" x2="1175" y2="1264"/>
<line class="ed" x1="878" y1="1208" x2="1020" y2="1343"/>
<line class="ed" x1="878" y1="1208" x2="1105" y2="1232"/>
<line class="ed" x1="878" y1="1208" x2="1077" y2="1091"/>
<line class="ed" x1="878" y1="1208" x2="672" y2="1255"/>
<line class="ed" x1="878" y1="1208" x2="965" y2="1175"/>
<line class="ed" x1="843" y1="1174" x2="741" y2="1040"/>
<line class="ed" x1="843" y1="1174" x2="708" y2="1080"/>
<line class="ed" x1="843" y1="1174" x2="699" y2="1230"/>
<line class="ed" x1="202" y1="915" x2="138" y2="887"/>
<line class="ed" x1="202" y1="915" x2="125" y2="989"/>
<line class="ed" x1="187" y1="951" x2="153" y2="1044"/>
<line class="ed" x1="117" y1="933" x2="138" y2="887"/>
<line class="ed" x1="138" y1="887" x2="125" y2="989"/>
<line class="ed" x1="118" y1="1165" x2="153" y2="1044"/>
<line class="ed" x1="118" y1="1165" x2="187" y2="1073"/>
<line class="ed" x1="118" y1="1165" x2="152" y2="1097"/>
<line class="ed" x1="118" y1="1165" x2="209" y2="1124"/>
<line class="ed" x1="262" y1="1022" x2="297" y2="1042"/>
<line class="ed" x1="1175" y1="1264" x2="1184" y2="1207"/>
<line class="ed" x1="1175" y1="1264" x2="1232" y2="1204"/>
<line class="ed" x1="1175" y1="1264" x2="1331" y2="1234"/>
<line class="ed" x1="1175" y1="1264" x2="1315" y2="1285"/>
<line class="ed" x1="1175" y1="1264" x2="1290" y2="1450"/>
<line class="ed" x1="1175" y1="1264" x2="1220" y2="1157"/>
<line class="ed" x1="1175" y1="1264" x2="1194" y2="1104"/>
<line class="ed" x1="1175" y1="1264" x2="1169" y2="1097"/>
<line class="ed" x1="1220" y1="1157" x2="1194" y2="1104"/>
<line class="ed" x1="1220" y1="1157" x2="1235" y2="1116"/>
<line class="ed" x1="1220" y1="1157" x2="1269" y2="1104"/>
<line class="ed" x1="1220" y1="1157" x2="1307" y2="1126"/>
<line class="ed" x1="1220" y1="1157" x2="1301" y2="1185"/>
<line class="ed" x1="1220" y1="1157" x2="1331" y2="1234"/>
<line class="ed" x1="1220" y1="1157" x2="1222" y2="959"/>
<line class="ed" x1="1220" y1="1157" x2="1184" y2="1207"/>
<line class="ed" x1="1240" y1="938" x2="1307" y2="1126"/>
<line class="ed" x1="1240" y1="938" x2="1222" y2="959"/>
<line class="ed" x1="1240" y1="938" x2="1401" y2="518"/>
<line class="ed" x1="1020" y1="1343" x2="1184" y2="1207"/>
<line class="ed" x1="1307" y1="1126" x2="1331" y2="1234"/>
<line class="ed" x1="1193" y1="1072" x2="1132" y2="930"/>
<line class="ed" x1="1077" y1="1091" x2="1157" y2="1064"/>
<line class="ed" x1="1100" y1="1010" x2="1188" y2="992"/>
<line class="ed" x1="1307" y1="1126" x2="1301" y2="1076"/>
<line class="ed" x1="1429" y1="210" x2="1356" y2="180"/>
<line class="ed" x1="1429" y1="210" x2="1398" y2="223"/>
<line class="ed" x1="1429" y1="210" x2="1452" y2="277"/>
<line class="ed" x1="1452" y1="277" x2="1477" y2="313"/>
<line class="ed" x1="1477" y1="313" x2="1446" y2="341"/>
<line class="ed" x1="1394" y1="315" x2="1366" y2="312"/>
<line class="ed" x1="1452" y1="277" x2="1356" y2="180"/>
<line class="ed" x1="1398" y1="223" x2="1452" y2="277"/>
</g>

<g id="nodes">
<g id="M1"><circle class="w" cx="417" cy="107" r="10"/></g>
<g id="M2"><circle class="g" cx="575" cy="112" r="10"/></g>
<g id="M3"><circle class="g" cx="600" cy="232" r="14"/></g>
<g id="M4"><circle class="g" cx="544" cy="253" r="12"/></g>
<g id="M5"><circle class="g" cx="675" cy="273" r="11"/></g>
<g id="M6"><circle class="w" cx="682" cy="229" r="10"/></g>
<g id="M7"><circle class="p" cx="660" cy="242" r="8"/></g>
<g id="M8"><circle class="w" cx="720" cy="212" r="9"/></g>
<g id="M9"><circle class="p" cx="752" cy="222" r="8"/></g>
<g id="M10"><circle class="p" cx="702" cy="256" r="10"/></g>
<g id="M11"><rect class="w" x="741.5" y="243.5" width="27" height="27"/></g>
<g id="M12"><circle class="w" cx="791" cy="239" r="9"/></g>
<g id="M13"><circle class="w" cx="791" cy="286" r="8"/></g>
<g id="M14"><circle class="k" cx="596" cy="290" r="9"/></g>
<g id="M15"><circle class="g" cx="545" cy="313" r="10"/></g>
<g id="M16"><circle class="p" cx="677" cy="308" r="8"/></g>
<g id="M17"><circle class="p" cx="746" cy="307" r="8"/></g>
<g id="M19"><circle class="w" cx="728" cy="330" r="9"/></g>
<g id="M18"><rect class="p" x="685" y="311" width="36" height="36"/></g>
<g id="M20"><rect class="w" x="748" y="322" width="24" height="24"/></g>
<g id="M21"><circle class="w" cx="782" cy="314" r="8"/></g>
<g id="M22"><circle class="p" cx="846" cy="314" r="8"/></g>
<g id="M23"><circle class="p" cx="871" cy="320" r="8"/></g>
<g id="M24"><circle class="w" cx="803" cy="342" r="8"/></g>
<g id="M25"><circle class="k" cx="697" cy="357" r="10"/></g>
<g id="M26"><circle class="p" cx="731" cy="358" r="9"/></g>
<g id="M27"><circle class="w" cx="760" cy="372" r="8"/></g>
<g id="M28"><circle class="k" cx="787" cy="374" r="9"/></g>
<g id="M29"><circle class="g" cx="629" cy="408" r="8"/></g>
<g id="M31"><rect class="p" x="677.5" y="421.5" width="57" height="57"/></g>
<g id="M30"><rect class="w" x="717" y="397" width="38" height="38"/></g>
<g id="M32"><circle class="g" cx="813" cy="15" r="12"/></g>
<g id="A1"><circle class="k" cx="537" cy="494" r="9"/></g>
<g id="A2"><circle class="p" cx="450" cy="489" r="10"/></g>
<g id="A3"><rect class="k" x="504" y="511" width="24" height="24"/></g>
<g id="A4"><circle class="k" cx="573" cy="560" r="12"/></g>
<g id="A5"><circle class="b" cx="667" cy="543" r="10"/></g>
<g id="A7"><rect class="b" x="806.5" y="495.5" width="45" height="45"/></g>
<g id="A6"><rect class="w" x="778" y="529" width="34" height="34"/></g>
<g id="A8"><circle class="k" cx="394" cy="577" r="10"/></g>
<g id="A9"><circle class="k" cx="638" cy="610" r="10"/></g>
<g id="A10"><rect class="k" x="464" y="624" width="18" height="18"/></g>
<g id="A11"><rect class="b" x="655" y="626" width="28" height="28"/></g>
<g id="A12"><circle class="w" cx="527" cy="669" r="9"/></g>
<g id="A13"><rect class="b" x="553" y="669" width="70" height="70"/></g>
<g id="A14"><rect class="w" x="600" y="666" width="24" height="24"/></g>
<g id="A15"><rect class="k" x="522" y="694" width="28" height="28"/></g>
<g id="A16"><circle class="k" cx="661" cy="703" r="8"/></g>
<g id="A17"><rect class="g" x="631" y="721" width="30" height="30"/></g>
<g id="A18"><rect class="b" x="772.5" y="707.5" width="19" height="19"/></g>
<g id="A19"><rect class="k" x="522.5" y="749.5" width="39" height="39"/></g>
<g id="A20"><circle class="w" cx="624" cy="780" r="9"/></g>
<g id="A21"><rect class="k" x="622" y="790" width="24" height="24"/></g>
<g id="A22"><circle class="w" cx="852" cy="789" r="10"/></g>
<g id="A23"><circle class="g" cx="355" cy="367" r="9"/></g>
<g id="B1"><circle class="k" cx="1356" cy="180" r="9"/></g>
<g id="B2"><rect class="b" x="1463.5" y="175.5" width="21" height="21"/></g>
<g id="B3"><circle class="k" cx="1429" cy="210" r="10"/></g>
<g id="B4"><rect class="p" x="1450.5" y="207.5" width="21" height="21"/></g>
<g id="B5"><rect class="w" x="1534.5" y="218.5" width="17" height="17"/></g>
<g id="B6"><circle class="w" cx="1336" cy="232" r="12"/></g>
<g id="B7"><circle class="w" cx="1371" cy="238" r="10"/></g>
<g id="B8"><circle class="w" cx="1398" cy="223" r="9"/></g>
<g id="B10"><rect class="k" x="1434" y="259" width="36" height="36"/></g>
<g id="B9"><circle class="b" cx="1426" cy="265" r="12"/></g>
<g id="B11"><circle class="b" cx="1476" cy="260" r="9"/></g>
<g id="B12"><circle class="b" cx="1371" cy="272" r="10"/></g>
<g id="B13"><circle class="w" cx="1406" cy="279" r="8"/></g>
<g id="B14"><circle class="w" cx="1329" cy="303" r="10"/></g>
<g id="B15"><circle class="w" cx="1287" cy="313" r="16"/></g>
<g id="B16"><rect class="b" x="1354.5" y="300.5" width="23" height="23"/></g>
<g id="B17"><circle class="w" cx="1394" cy="315" r="12"/></g>
<g id="B18"><circle class="w" cx="1428" cy="303" r="11"/></g>
<g id="B19"><rect class="k" x="1465" y="301" width="24" height="24"/></g>
<g id="B20"><circle class="w" cx="1508" cy="310" r="12"/></g>
<g id="B21"><circle class="w" cx="1543" cy="333" r="11"/></g>
<g id="B22"><circle class="w" cx="1418" cy="344" r="12"/></g>
<g id="B23"><circle class="w" cx="1446" cy="341" r="15"/></g>
<g id="B24"><circle class="p" cx="1483" cy="350" r="13"/></g>
<g id="B25"><circle class="w" cx="1402" cy="378" r="11"/></g>
<g id="B26"><circle class="w" cx="1435" cy="378" r="11"/></g>
<g id="B27"><circle class="w" cx="1456" cy="395" r="14"/></g>
<g id="B28"><circle class="w" cx="1495" cy="381" r="14"/></g>
<g id="B29"><circle class="w" cx="1526" cy="376" r="10"/></g>
<g id="B30"><circle class="w" cx="1417" cy="405" r="11"/></g>
<g id="B31"><circle class="w" cx="1530" cy="406" r="15"/></g>
<g id="B32"><circle class="w" cx="1442" cy="427" r="10"/></g>
<g id="B33"><circle class="w" cx="1488" cy="433" r="10"/></g>
<g id="B34"><circle class="w" cx="1522" cy="440" r="26"/></g>
<g id="B35"><circle class="w" cx="1359" cy="444" r="14"/></g>
<g id="B36"><circle class="w" cx="1397" cy="449" r="14"/></g>
<g id="B37"><circle class="w" cx="1446" cy="470" r="13"/></g>
<g id="B38"><circle class="w" cx="1415" cy="481" r="10"/></g>
<g id="B39"><circle class="w" cx="1593" cy="469" r="10"/></g>
<g id="B40"><circle class="w" cx="1401" cy="518" r="14"/></g>
<g id="B41"><circle class="b" cx="1480" cy="592" r="10"/></g>
<g id="B42"><circle class="w" cx="1312" cy="644" r="9"/></g>
<g id="B43"><circle class="w" cx="1394" cy="662" r="9"/></g>
<g id="S1"><circle class="w" cx="12" cy="785" r="10"/></g>
<g id="S2"><circle class="w" cx="69" cy="828" r="8"/></g>
<g id="S3"><circle class="g" cx="272" cy="802" r="10"/></g>
<g id="S4"><rect class="k" x="112.5" y="861.5" width="51" height="51"/></g>
<g id="S5"><circle class="g" cx="189" cy="867" r="10"/></g>
<g id="S6"><rect class="k" x="185" y="898" width="34" height="34"/></g>
<g id="S7"><circle class="w" cx="117" cy="933" r="9"/></g>
<g id="S8"><circle class="w" cx="148" cy="933" r="9"/></g>
<g id="S9"><circle class="w" cx="84" cy="946" r="8"/></g>
<g id="S10"><circle class="g" cx="187" cy="951" r="10"/></g>
<g id="S12"><rect class="g" x="252.5" y="964.5" width="29" height="30"/></g>
<g id="S11"><rect class="w" x="207.5" y="933.5" width="57" height="57"/></g>
<g id="S13"><circle class="b" cx="125" cy="989" r="10"/></g>
<g id="S14"><circle class="g" cx="159" cy="998" r="9"/></g>
<g id="S15"><rect class="w" x="243.5" y="1003.5" width="37" height="37"/></g>
<g id="S16"><circle class="w" cx="153" cy="1044" r="9"/></g>
<g id="S17"><circle class="w" cx="297" cy="1042" r="10"/></g>
<g id="S18"><circle class="b" cx="19" cy="1059" r="8"/></g>
<g id="S19"><circle class="g" cx="187" cy="1073" r="9"/></g>
<g id="S20"><rect class="w" x="104.5" y="1087.5" width="19" height="19"/></g>
<g id="S21"><circle class="g" cx="152" cy="1097" r="8"/></g>
<g id="S22"><circle class="g" cx="209" cy="1124" r="9"/></g>
<g id="S23"><rect class="k" x="107" y="1154" width="22" height="22"/></g>
<g id="S24"><rect class="w" x="190.5" y="1177.5" width="19" height="19"/></g>
<g id="S25"><circle class="w" cx="380" cy="1162" r="9"/></g>
<g id="V1"><rect class="k" x="612.5" y="893.5" width="23" height="23"/></g>
<g id="V2"><circle class="g" cx="803" cy="853" r="10"/></g>
<g id="V3"><rect class="w" x="890.5" y="882.5" width="31" height="31"/></g>
<g id="V4"><rect class="g" x="590.5" y="984.5" width="19" height="19"/></g>
<g id="V5"><circle class="w" cx="928" cy="948" r="11"/></g>
<g id="V6"><circle class="w" cx="857" cy="957" r="9"/></g>
<g id="V7"><rect class="p" x="891" y="961" width="66" height="66"/></g>
<g id="V8"><circle class="g" cx="526" cy="1034" r="9"/></g>
<g id="V10"><rect class="b" x="834" y="1007" width="76" height="76"/></g>
<g id="V9"><rect class="w" x="860.5" y="989.5" width="19" height="19"/></g>
<g id="V11"><rect class="b" x="888.5" y="1002.5" width="25" height="25"/></g>
<g id="V12"><rect class="w" x="824" y="1045" width="28" height="28"/></g>
<g id="V13"><circle class="w" cx="904" cy="1073" r="8"/></g>
<g id="V14"><circle class="w" cx="877" cy="1082" r="8"/></g>
<g id="V15"><circle class="w" cx="814" cy="1088" r="10"/></g>
<g id="V16"><rect class="w" x="726.5" y="1025.5" width="29" height="29"/></g>
<g id="V17"><rect class="g" x="937" y="1054" width="20" height="20"/></g>
<g id="V18"><circle class="w" cx="572" cy="1087" r="9"/></g>
<g id="V19"><rect class="w" x="699" y="1071" width="18" height="18"/></g>
<g id="V20"><rect class="g" x="623.5" y="1082.5" width="21" height="21"/></g>
<g id="V21"><rect class="b" x="497" y="1092" width="58" height="58"/></g>
<g id="V22"><circle class="b" cx="572" cy="1118" r="9"/></g>
<g id="V23"><rect class="g" x="586.5" y="1103.5" width="35" height="35"/></g>
<g id="V24"><circle class="b" cx="713" cy="1113" r="8"/></g>
<g id="V25"><rect class="w" x="636" y="1128" width="20" height="20"/></g>
<g id="V26"><rect class="b" x="903" y="1108" width="36" height="36"/></g>
<g id="V27"><rect class="w" x="994" y="1106" width="22" height="22"/></g>
<g id="V28"><rect class="w" x="743" y="1138" width="20" height="20"/></g>
<g id="V29"><circle class="g" cx="572" cy="1158" r="9"/></g>
<g id="V30"><rect class="w" x="648" y="1146" width="24" height="24"/></g>
<g id="V31"><circle class="w" cx="690" cy="1164" r="11"/></g>
<g id="V32"><rect class="k" x="495" y="1168" width="58" height="58"/></g>
<g id="V33"><circle class="g" cx="552" cy="1212" r="13"/></g>
<g id="V34"><rect class="g" x="572.5" y="1179.5" width="23" height="23"/></g>
<g id="V35"><rect class="g" x="628" y="1170" width="20" height="20"/></g>
<g id="V36"><circle class="g" cx="620" cy="1200" r="10"/></g>
<g id="V37"><rect class="g" x="734" y="1169" width="26" height="26"/></g>
<g id="V38"><rect class="k" x="823" y="1154" width="40" height="40"/></g>
<g id="V39"><rect class="k" x="861.5" y="1191.5" width="33" height="33"/></g>
<g id="V40"><rect class="w" x="954.5" y="1164.5" width="21" height="21"/></g>
<g id="V41"><rect class="k" x="644.5" y="1218.5" width="19" height="19"/></g>
<g id="V42"><rect class="w" x="683.5" y="1214.5" width="31" height="31"/></g>
<g id="V43"><circle class="w" cx="581" cy="1243" r="14"/></g>
<g id="V44"><rect class="g" x="661.5" y="1244.5" width="21" height="21"/></g>
<g id="V45"><rect class="w" x="911.5" y="1228.5" width="17" height="17"/></g>
<g id="V46"><rect class="b" x="742" y="1287" width="20" height="20"/></g>
<g id="V47"><rect class="w" x="878" y="1286" width="18" height="18"/></g>
<g id="V48"><circle class="w" cx="939" cy="1303" r="12"/></g>
<g id="V49"><circle class="k" cx="625" cy="1318" r="13"/></g>
<g id="V50"><circle class="w" cx="1003" cy="1319" r="8"/></g>
<g id="V51"><circle class="k" cx="1020" cy="1343" r="8"/></g>
<g id="V52"><rect class="g" x="500.5" y="1350.5" width="17" height="17"/></g>
<g id="V53"><circle class="g" cx="609" cy="1388" r="10"/></g>
<g id="V54"><rect class="w" x="786.5" y="1377.5" width="25" height="25"/></g>
<g id="V55"><rect class="w" x="1038.5" y="849.5" width="17" height="17"/></g>
<g id="L1"><circle class="g" cx="1133" cy="861" r="10"/></g>
<g id="L2"><rect class="w" x="1085" y="925" width="36" height="36"/></g>
<g id="L3"><rect class="w" x="1117.5" y="915.5" width="29" height="29"/></g>
<g id="L4"><circle class="k" cx="1240" cy="938" r="10"/></g>
<g id="L5"><rect class="w" x="1252.5" y="914.5" width="25" height="25"/></g>
<g id="L6"><rect class="w" x="1339.5" y="954.5" width="17" height="17"/></g>
<g id="L7"><rect class="w" x="1178.5" y="948.5" width="17" height="17"/></g>
<g id="L8"><rect class="w" x="1204" y="941" width="36" height="36"/></g>
<g id="L9"><rect class="w" x="1175.5" y="979.5" width="25" height="25"/></g>
<g id="L10"><circle class="w" cx="1100" cy="1010" r="9"/></g>
<g id="L11"><circle class="w" cx="1249" cy="1006" r="9"/></g>
<g id="L12"><circle class="w" cx="1278" cy="1009" r="8"/></g>
<g id="L13"><rect class="w" x="1205.5" y="1016.5" width="23" height="23"/></g>
<g id="L14"><circle class="b" cx="1303" cy="1039" r="11"/></g>
<g id="L15"><rect class="p" x="1086" y="1038" width="52" height="52"/></g>
<g id="L16"><rect class="p" x="1145" y="1052" width="24" height="24"/></g>
<g id="L17"><rect class="b" x="1056" y="1070" width="42" height="42"/></g>
<g id="L18"><circle class="p" cx="1193" cy="1072" r="8"/></g>
<g id="L19"><rect class="w" x="1232" y="1038" width="50" height="50"/></g>
<g id="L20"><circle class="p" cx="1301" cy="1076" r="9"/></g>
<g id="L21"><circle class="b" cx="1169" cy="1097" r="8"/></g>
<g id="L22"><circle class="w" cx="1194" cy="1104" r="10"/></g>
<g id="L23"><circle class="w" cx="1235" cy="1116" r="8"/></g>
<g id="L24"><circle class="w" cx="1269" cy="1104" r="10"/></g>
<g id="L25"><circle class="k" cx="1307" cy="1126" r="9"/></g>
<g id="L26"><circle class="k" cx="1220" cy="1157" r="10"/></g>
<g id="L27"><circle class="w" cx="1301" cy="1185" r="10"/></g>
<g id="L28"><circle class="b" cx="1396" cy="1156" r="10"/></g>
<g id="L29"><rect class="p" x="1063" y="1181" width="20" height="20"/></g>
<g id="L30"><rect class="w" x="1167.5" y="1190.5" width="33" height="33"/></g>
<g id="L31"><rect class="b" x="1222.5" y="1194.5" width="19" height="19"/></g>
<g id="L32"><rect class="b" x="1096.5" y="1223.5" width="17" height="17"/></g>
<g id="L33"><circle class="p" cx="1331" cy="1234" r="10"/></g>
<g id="L34"><rect class="k" x="1161" y="1250" width="28" height="28"/></g>
<g id="L35"><circle class="b" cx="1315" cy="1285" r="9"/></g>
<g id="L36"><circle class="w" cx="1340" cy="1368" r="8"/></g>
<g id="L37"><circle class="w" cx="1082" cy="1389" r="9"/></g>
<g id="L38"><circle class="w" cx="1290" cy="1450" r="8"/></g>
</g>

<g id="panel-b">
<text class="pl" x="1615" y="25">b</text>
<text class="tb" x="1941" y="25" text-anchor="middle">All</text>
<rect x="1842" y="34" width="180" height="41" fill="#e0e0e0"/>
<line x1="1842" y1="76" x2="2022" y2="76" stroke="#000" stroke-width="3.5"/>
<line x1="1939" y1="33" x2="1939" y2="195" stroke="#000" stroke-width="2"/>
<line x1="1842" y1="136" x2="2022" y2="136" stroke="#000" stroke-width="2"/>
<text class="tb" x="1828" y="63" text-anchor="end">CAD associations</text>
<text class="tb" x="1893" y="65" text-anchor="middle">&lt;2</text>
<text class="tb" x="1980" y="65" text-anchor="middle">≥2</text>
<text class="tb" x="1825" y="115" text-anchor="end">Tissue specific</text>
<text class="tb" x="1889" y="115" text-anchor="end">120</text>
<circle cx="1913" cy="103" r="11" fill="#fff" stroke="#000" stroke-width="3.5"/>
<text class="tb" x="1988" y="115" text-anchor="end">15</text>
<circle cx="2008" cy="103" r="13" fill="#000"/>
<text class="tb" x="2032" y="115">(11%)</text>
<text class="tb" x="1825" y="175" text-anchor="end">Cross-tissue</text>
<text class="tb" x="1889" y="175" text-anchor="end">72</text>
<rect x="1903" y="153" width="22" height="22" fill="#fff" stroke="#000" stroke-width="3.5"/>
<text class="tb" x="1988" y="175" text-anchor="end">17</text>
<rect x="1998" y="153" width="22" height="22" fill="#333" stroke="#000" stroke-width="1.5"/>
<text class="tb" x="2032" y="175">(19%)</text>
<text class="tb" x="1793" y="221"><tspan font-style="italic">χ</tspan><tspan dy="-11" font-size="16">2</tspan><tspan dy="11"> = 2.78</tspan></text>
<text class="tb" x="1937" y="221"><tspan font-style="italic">P</tspan> = 0.094</text>
<text class="tb" x="1797" y="282">Without TS AOR + MAM</text>
<rect x="1842" y="299" width="180" height="37" fill="#e0e0e0"/>
<line x1="1842" y1="337" x2="2022" y2="337" stroke="#000" stroke-width="3.5"/>
<line x1="1939" y1="292" x2="1939" y2="455" stroke="#000" stroke-width="2"/>
<line x1="1842" y1="397" x2="2022" y2="397" stroke="#000" stroke-width="2"/>
<text class="tb" x="1828" y="322" text-anchor="end">CAD associations</text>
<text class="tb" x="1893" y="324" text-anchor="middle">&lt;2</text>
<text class="tb" x="1980" y="324" text-anchor="middle">≥2</text>
<text class="tb" x="1825" y="372" text-anchor="end">Tissue specific</text>
<text class="tb" x="1889" y="374" text-anchor="end">90</text>
<circle cx="1913" cy="363" r="11" fill="#fff" stroke="#000" stroke-width="3.5"/>
<text class="tb" x="1988" y="374" text-anchor="end">7</text>
<circle cx="2007" cy="363" r="13" fill="#000"/>
<text class="tb" x="2025" y="372">(7%)</text>
<text class="tb" x="1825" y="437" text-anchor="end">Cross-tissue</text>
<text class="tb" x="1889" y="439" text-anchor="end">72</text>
<rect x="1903" y="414" width="22" height="22" fill="#fff" stroke="#000" stroke-width="3.5"/>
<text class="tb" x="1988" y="439" text-anchor="end">17</text>
<rect x="1998" y="414" width="22" height="22" fill="#333" stroke="#000" stroke-width="1.5"/>
<text class="tb" x="2032" y="437">(19%)</text>
<text class="tb" x="1793" y="484"><tspan font-style="italic">χ</tspan><tspan dy="-11" font-size="16">2</tspan><tspan dy="11"> = 5.83</tspan></text>
<text class="tb" x="1932" y="484"><tspan font-style="italic">P</tspan> = 0.016</text>
</g>

<g id="panel-c">
<text class="pl" x="1446" y="637">c</text>
<path class="ax" d="M1528,638V860M1520,640H1528M1520,684H1528M1520,728H1528M1520,772H1528M1520,816H1528M1520,860H1528"/>
<text class="tk" x="1513" y="691" text-anchor="end">20</text>
<text class="tk" x="1513" y="779" text-anchor="end">10</text>
<text class="tk" x="1513" y="823" text-anchor="end">5</text>
<text class="tk" x="1513" y="867" text-anchor="end">0</text>
<text transform="translate(1464,748) rotate(-90)" text-anchor="middle" font-size="20">GRN <tspan font-style="italic">H</tspan><tspan dy="-7" font-size="13">2</tspan><tspan dy="7"> (%)</tspan></text>
<line class="wh" x1="1560" y1="848" x2="1560" y2="827"/><line class="wh" x1="1553" y1="827" x2="1567" y2="827"/>
<rect class="box" x="1537" y="848" width="46" height="10"/>
<line class="med" x1="1537" y1="853" x2="1583" y2="853"/>
<line class="wh" x1="1615" y1="803" x2="1615" y2="732" stroke-dasharray="6,3"/><line class="wh" x1="1605" y1="732" x2="1625" y2="732"/>
<rect class="box" x="1593" y="803" width="45" height="53"/>
<line class="med" x1="1593" y1="840" x2="1638" y2="840"/>
<path class="dk" d="M1542,858h0M1549,858h0M1556,858h0M1563,858h0M1570,858h0M1576,858h0M1545,854h0M1552,854h0M1559,854h0M1566,854h0M1573,854h0M1541,850h0M1548,850h0M1555,850h0M1562,850h0M1569,850h0M1576,850h0M1544,846h0M1551,846h0M1558,846h0M1565,846h0M1572,846h0M1547,842h0M1554,842h0M1561,842h0M1568,842h0M1575,842h0M1543,838h0M1550,838h0M1557,838h0M1564,838h0M1571,838h0M1548,834h0M1555,834h0M1562,834h0M1569,834h0M1552,830h0M1560,830h0M1567,830h0M1556,826h0M1570,826h0M1549,821h0M1557,777h0M1549,805h0M1560,811h0M1565,817h0"/>
<path class="dr" d="M1606,616h0M1625,623h0M1623,653h0M1612,673h0M1606,700h0M1622,706h0M1614,732h0M1610,740h0M1613,745h0M1614,763h0M1604,772h0M1618,776h0M1608,781h0M1625,785h0M1600,790h0M1616,794h0M1628,797h0M1603,801h0M1620,803h0M1610,807h0M1627,809h0M1598,812h0M1614,815h0M1605,819h0M1622,821h0M1630,825h0M1600,828h0M1612,831h0M1620,834h0M1606,837h0M1626,839h0M1598,843h0M1616,845h0M1608,848h0M1624,850h0M1602,853h0M1613,856h0M1621,858h0M1630,857h0M1605,858h0M1617,851h0M1629,846h0M1601,847h0M1632,832h0"/>
<path class="ax" d="M1559,603V590H1612V603"/>
<text class="tk" x="1603" y="577" text-anchor="middle"><tspan font-style="italic">P</tspan> = 2.51 × 10<tspan dy="-8" font-size="13">−7</tspan></text>
<path class="ax" d="M1560,883V870H1615V883"/>
<text x="1560" y="912" text-anchor="middle" font-size="20">TS</text>
<text x="1615" y="912" text-anchor="middle" font-size="20">CT</text>
<path class="ax" d="M1760,655V860M1752,655H1760M1752,707H1760M1752,758H1760M1752,809H1760M1752,860H1760"/>
<text class="tk" x="1745" y="662" text-anchor="end">0.008</text>
<text class="tk" x="1745" y="765" text-anchor="end">0.004</text>
<text class="tk" x="1745" y="867" text-anchor="end">0</text>
<text transform="translate(1675,737) rotate(-90)" text-anchor="middle" font-size="20">GRN <tspan font-style="italic">H</tspan><tspan dy="-7" font-size="13">2</tspan><tspan dy="7"> per eSNP (%)</tspan></text>
<line class="wh" x1="1792" y1="758" x2="1792" y2="695" stroke-dasharray="6,3"/><line class="wh" x1="1782" y1="695" x2="1802" y2="695"/>
<rect class="box" x="1770" y="758" width="45" height="68"/>
<line class="med" x1="1770" y1="788" x2="1815" y2="788"/>
<line class="wh" x1="1848" y1="765" x2="1848" y2="727" stroke-dasharray="6,3"/><line class="wh" x1="1838" y1="727" x2="1858" y2="727"/>
<line class="wh" x1="1848" y1="796" x2="1848" y2="842" stroke-dasharray="6,3"/><line class="wh" x1="1838" y1="842" x2="1858" y2="842"/>
<rect class="box" x="1826" y="765" width="44" height="31"/>
<line class="med" x1="1826" y1="780" x2="1870" y2="780"/>
<path class="dk" d="M1791,616h0M1777,695h0M1785,695h0M1800,695h0M1781,700h0M1792,700h0M1776,705h0M1797,705h0M1786,710h0M1803,710h0M1779,715h0M1794,715h0M1784,720h0M1799,720h0M1776,725h0M1790,725h0M1781,730h0M1805,730h0M1788,735h0M1796,735h0M1778,740h0M1793,740h0M1783,745h0M1801,745h0M1776,750h0M1790,750h0M1786,755h0M1798,755h0M1780,760h0M1794,760h0M1775,765h0M1788,765h0M1803,765h0M1783,770h0M1797,770h0M1778,775h0M1791,775h0M1786,780h0M1800,780h0M1779,785h0M1794,785h0M1784,790h0M1805,790h0M1776,795h0M1791,795h0M1781,800h0M1798,800h0M1788,805h0M1795,805h0M1777,810h0M1792,810h0M1784,815h0M1802,815h0M1779,820h0M1790,820h0M1787,825h0M1797,825h0M1776,830h0M1793,830h0M1783,835h0M1800,835h0M1779,840h0M1791,840h0M1786,845h0M1798,845h0M1777,850h0M1794,850h0M1782,855h0M1801,855h0M1776,859h0M1789,859h0M1797,859h0"/>
<path class="dr" d="M1855,701h0M1838,725h0M1850,725h0M1845,730h0M1858,730h0M1835,735h0M1852,735h0M1842,740h0M1860,740h0M1837,745h0M1849,745h0M1864,745h0M1844,750h0M1856,750h0M1834,755h0M1851,755h0M1862,755h0M1840,760h0M1853,760h0M1836,765h0M1847,765h0M1860,765h0M1843,770h0M1856,770h0M1838,775h0M1850,775h0M1863,775h0M1845,780h0M1857,780h0M1835,785h0M1849,785h0M1861,785h0M1842,790h0M1854,790h0M1838,795h0M1859,795h0M1846,800h0M1841,805h0M1848,815h0M1838,825h0M1854,830h0M1844,837h0M1836,843h0M1852,843h0M1840,850h0M1856,850h0M1837,857h0M1848,857h0M1835,860h0M1846,860h0"/>
<path class="ax" d="M1790,603V590H1843V603"/>
<text class="tk" x="1835" y="577" text-anchor="middle"><tspan font-style="italic">P</tspan> = 0.499</text>
<path class="ax" d="M1793,883V870H1847V883"/>
<text x="1793" y="912" text-anchor="middle" font-size="20">TS</text>
<text x="1847" y="912" text-anchor="middle" font-size="20">CT</text>
<path class="ax" d="M1979,633V860M1971,633H1979M1971,678H1979M1971,723H1979M1971,769H1979M1971,815H1979M1971,860H1979"/>
<text class="tk" x="1963" y="685" text-anchor="end">0.8</text>
<text class="tk" x="1963" y="776" text-anchor="end">0.4</text>
<text class="tk" x="1963" y="867" text-anchor="end">0</text>
<text transform="translate(1917,752) rotate(-90)" text-anchor="middle" font-size="20">GRN <tspan font-style="italic">H</tspan><tspan dy="-7" font-size="13">2</tspan><tspan dy="7"> per KD (%)</tspan></text>
<line class="wh" x1="2011" y1="848" x2="2011" y2="833"/><line class="wh" x1="2004" y1="833" x2="2018" y2="833"/>
<rect class="box" x="1989" y="848" width="45" height="9"/>
<line class="med" x1="1989" y1="853" x2="2034" y2="853"/>
<line class="wh" x1="2067" y1="820" x2="2067" y2="772" stroke-dasharray="6,3"/><line class="wh" x1="2057" y1="772" x2="2077" y2="772"/>
<rect class="box" x="2045" y="820" width="44" height="37"/>
<line class="med" x1="2045" y1="850" x2="2089" y2="850"/>
<path class="dk" d="M1992,858h0M1999,858h0M2006,858h0M2013,858h0M2020,858h0M2026,858h0M1995,854h0M2002,854h0M2009,854h0M2016,854h0M2023,854h0M1991,850h0M1998,850h0M2005,850h0M2012,850h0M2019,850h0M2026,850h0M1994,846h0M2001,846h0M2008,846h0M2015,846h0M2022,846h0M1997,842h0M2004,842h0M2011,842h0M2018,842h0M2025,842h0M1993,838h0M2000,838h0M2007,838h0M2014,838h0M2021,838h0M1998,834h0M2005,834h0M2012,834h0M2019,834h0M2024,830h0M2015,826h0M2008,822h0M2011,791h0M2002,814h0M2020,814h0"/>
<path class="dr" d="M2058,617h0M2061,637h0M2057,676h0M2058,739h0M2064,748h0M2062,765h0M2068,775h0M2060,790h0M2054,802h0M2066,810h0M2058,817h0M2074,812h0M2050,825h0M2062,828h0M2072,831h0M2055,834h0M2067,836h0M2078,839h0M2049,842h0M2060,844h0M2070,846h0M2080,848h0M2053,850h0M2064,852h0M2075,854h0M2048,856h0M2058,858h0M2069,858h0M2079,857h0M2055,847h0M2066,840h0"/>
<path class="ax" d="M2013,603V590H2066V603"/>
<text class="tk" x="2099" y="577" text-anchor="end"><tspan font-style="italic">P</tspan> = 0.000791</text>
<path class="ax" d="M2011,883V870H2066V883"/>
<text x="2011" y="912" text-anchor="middle" font-size="20">TS</text>
<text x="2066" y="912" text-anchor="middle" font-size="20">CT</text>
</g>

<g id="panel-d">
<text class="pl" x="1519" y="950">d</text>
<text class="tk" x="1799" y="947" text-anchor="middle"><tspan font-style="italic">P</tspan> = 2.53 × 10<tspan dy="-8" font-size="13">−7</tspan></text>
<path d="M1634,1147L1650,1146.1L1668,1143.5L1685,1138.3L1699,1133.1L1715,1120.9L1730,1108.7L1750,1094.8L1768,1082.6L1790,1068.7L1806,1060L1825,1056.5L1844,1060L1860,1067L1875,1072.2L1890,1077.4L1902,1082.6L1920,1093.1L1940,1103.5L1955,1110.5L1971,1117.4L1985,1126.1L1997,1133.1L2015,1140L2036,1145.3L2074,1147Z" fill="#ee7373" stroke="#111" stroke-width="2" stroke-linejoin="round"/>
<path d="M1640,1147L1680,1146.5L1691,1145.3L1700,1140L1706,1133.1L1712,1120.9L1720,1094.8L1727,1063.5L1733,1039.1L1740,1018.2L1750,1000.8L1760,990.4L1770,985.2L1780,981.7L1788,983.4L1796,990.4L1804,1007.8L1810,1021.7L1818,1042.6L1826,1060L1833,1072.2L1842,1080.9L1850,1086.1L1860,1091.3L1869,1100L1876,1108.7L1883,1117.4L1890,1127.9L1898,1138.3L1906,1144.4L1915,1146.1L1940,1146.1L1960,1145.3L1975,1146.1L2000,1147L2074,1147Z" fill="rgb(53,123,190)" fill-opacity="0.63" stroke="#111" stroke-width="2" stroke-linejoin="round"/>
<path class="ax" d="M1618,968V1147M1610,973H1618M1610,1008H1618M1610,1043H1618M1610,1077H1618M1610,1112H1618M1610,1147H1618"/>
<path class="ax" d="M1618,1153H2091M1663,1153V1161M1770,1153V1161M1877,1153V1161M1984,1153V1161"/>
<text class="tk" x="1601" y="1014" text-anchor="end">0.8</text>
<text class="tk" x="1601" y="1084" text-anchor="end">0.4</text>
<text class="tk" x="1601" y="1154" text-anchor="end">0</text>
<text class="tk" x="1663" y="1185" text-anchor="middle">1</text>
<text class="tk" x="1770" y="1185" text-anchor="middle">2</text>
<text class="tk" x="1877" y="1185" text-anchor="middle">3</text>
<text class="tk" x="1984" y="1185" text-anchor="middle">4</text>
<text class="tk" x="1854" y="1218" text-anchor="middle">Module size (log<tspan dy="6" font-size="13">10</tspan><tspan dy="-6"> (</tspan><tspan font-style="italic">n</tspan>))</text>
<text class="tk" transform="translate(1543,1065) rotate(-90)" text-anchor="middle">Density</text>
<rect x="1978" y="987" width="21" height="20" fill="#ee7373" stroke="#111" stroke-width="2"/>
<rect x="1978" y="1023" width="21" height="20" fill="#7fabd5" stroke="#111" stroke-width="2"/>
<text class="tk" x="2013" y="1005">CT</text>
<text class="tk" x="2013" y="1040">TS</text>
</g>

<g id="panel-e">
<text class="pl" x="1527" y="1262">e</text>
<path d="M1632,1439L1661,1438L1684,1434.5L1703,1434.5L1722,1433.7L1737,1432.8L1753,1428.3L1760,1427.4L1783,1420.3L1806,1415L1826,1407.9L1847,1387.4L1868,1367L1891,1330.4L1914,1292.2L1940,1274.4L1958,1282.4L1971,1307.3L1986,1387.4L2001,1413.2L2021,1432.8L2044,1439L2066,1439Z" fill="#ee7373" stroke="#111" stroke-width="2" stroke-linejoin="round"/>
<path d="M1632,1439L1665,1436.3L1680,1434.5L1699,1437.2L1714,1438.1L1730,1437.2L1745,1431.9L1768,1420.3L1783,1407L1799,1392.7L1814,1391L1833,1391L1847,1387.4L1868,1363.4L1891,1330.4L1906,1305.5L1921,1293L1933,1294L1948,1302L1963,1317.1L1979,1352.7L1994,1392.7L2009,1423L2021,1435.4L2036,1439L2051,1439Z" fill="rgb(53,123,190)" fill-opacity="0.63" stroke="#111" stroke-width="2" stroke-linejoin="round"/>
<path class="ax" d="M1615,1267V1439M1607,1306H1615M1607,1350H1615M1607,1395H1615M1607,1439H1615"/>
<path class="ax" d="M1615,1446H2081M1622,1446V1454M1735,1446V1454M1849,1446V1454M1963,1446V1454M2076,1446V1454"/>
<text class="tk" x="1599" y="1357" text-anchor="end">1.0</text>
<text class="tk" x="1599" y="1446" text-anchor="end">0</text>
<text class="tk" x="1622" y="1480" text-anchor="middle">0</text>
<text class="tk" x="1735" y="1480" text-anchor="middle">0.5</text>
<text class="tk" x="1849" y="1480" text-anchor="middle">1.0</text>
<text class="tk" x="1963" y="1480" text-anchor="middle">1.5</text>
<text class="tk" x="2076" y="1480" text-anchor="middle">2.0</text>
<text class="tk" x="1843" y="1515" text-anchor="middle">Key drivers (log<tspan dy="6" font-size="13">10</tspan><tspan dy="-6"> (</tspan><tspan font-style="italic">n</tspan>))</text>
<text class="tk" transform="translate(1545,1357) rotate(-90)" text-anchor="middle">Density</text>
<text class="tk" x="1756" y="1341"><tspan font-style="italic">P</tspan> = 0.2722</text>
<rect x="1978" y="1286" width="21" height="18" fill="#ee7373" stroke="#111" stroke-width="2"/>
<rect x="1978" y="1320" width="21" height="18" fill="#7fabd5" stroke="#111" stroke-width="2"/>
<text class="tk" x="2009" y="1303">CT</text>
<text class="tk" x="2009" y="1338">TS</text>
</g>
</svg>
